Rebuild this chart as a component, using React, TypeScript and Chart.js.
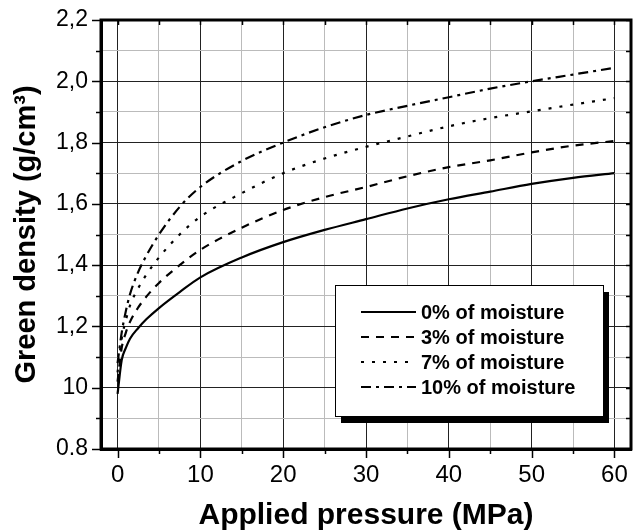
import React, { useEffect, useRef } from "react";
import { Chart, registerables } from "chart.js";

Chart.register(...registerables);

const pressure = [0, 0.5, 1, 1.5, 2.5, 3.5, 5, 7.5, 10, 15, 20, 25, 30, 35, 40, 45, 50, 55, 60];
const moisture0 = [0.98, 1.09, 1.13, 1.16, 1.195, 1.224, 1.26, 1.312, 1.36, 1.425, 1.475, 1.515, 1.55, 1.585, 1.615, 1.64, 1.665, 1.685, 1.70];
const moisture3 = [1.02, 1.13, 1.18, 1.215, 1.262, 1.298, 1.342, 1.40, 1.45, 1.522, 1.58, 1.622, 1.655, 1.69, 1.72, 1.742, 1.768, 1.79, 1.805];
const moisture7 = [1.05, 1.16, 1.22, 1.268, 1.325, 1.37, 1.425, 1.50, 1.558, 1.635, 1.70, 1.748, 1.786, 1.82, 1.853, 1.88, 1.902, 1.924, 1.945];
const moisture10 = [1.08, 1.18, 1.25, 1.305, 1.378, 1.432, 1.50, 1.59, 1.655, 1.74, 1.80, 1.85, 1.89, 1.92, 1.948, 1.976, 2.0, 2.022, 2.044];

const seriesLabels = ["0% of moisture", "3% of moisture", "7% of moisture", "10% of moisture"];
const seriesDashes: number[][] = [[], [8, 7], [3, 8], [10, 5, 3, 5]];

const yTickValues = [0.8, 1.0, 1.2, 1.4, 1.6, 1.8, 2.0, 2.2];
const yTickLabels = ["0.8", "10", "1,2", "1,4", "1,6", "1,8", "2,0", "2,2"];
const xTickValues = [0, 10, 20, 30, 40, 50, 60];
const xTickLabels = ["0", "10", "20", "30", "40", "50", "60"];

const FONT = "Arial, 'Liberation Sans', Helvetica, sans-serif";

const isMajorY = (v: number) => yTickValues.some((t) => Math.abs(t - v) < 1e-6);
const isMajorX = (v: number) => xTickValues.some((t) => Math.abs(t - v) < 1e-6);

const framePlugin = {
  id: "frameAndLegend",
  afterDraw(chart: any) {
    const { ctx, chartArea } = chart;
    const xs = chart.scales.x;
    const ys = chart.scales.y;
    ctx.save();
    ctx.strokeStyle = "#000";
    ctx.lineWidth = 1.5;
    for (let v = 0; v <= 60.0001; v += 5) {
      const px = Math.round(xs.getPixelForValue(v)) + 0.5;
      const len = isMajorX(v) ? 9 : 5;
      ctx.beginPath();
      ctx.moveTo(px, chartArea.bottom);
      ctx.lineTo(px, chartArea.bottom + len);
      ctx.stroke();
      ctx.beginPath();
      ctx.moveTo(px, chartArea.top);
      ctx.lineTo(px, chartArea.top + 5);
      ctx.stroke();
    }
    for (let i = 0; i <= 14; i++) {
      const v = 0.8 + i * 0.1;
      const py = Math.round(ys.getPixelForValue(v)) + 0.5;
      const len = isMajorY(v) ? 9 : 5;
      ctx.beginPath();
      ctx.moveTo(chartArea.left, py);
      ctx.lineTo(chartArea.left - len, py);
      ctx.stroke();
      ctx.beginPath();
      ctx.moveTo(chartArea.right, py);
      ctx.lineTo(chartArea.right - 5, py);
      ctx.stroke();
    }
    ctx.lineWidth = 3;
    ctx.strokeRect(chartArea.left, chartArea.top, chartArea.right - chartArea.left, chartArea.bottom - chartArea.top);

    const bx = 335, by = 285, bw = 268, bh = 131;
    ctx.fillStyle = "#000";
    ctx.fillRect(bx + 6, by + 7, bw, bh);
    ctx.fillStyle = "#fff";
    ctx.fillRect(bx, by, bw, bh);
    ctx.lineWidth = 1;
    ctx.strokeStyle = "#000";
    ctx.strokeRect(bx + 0.5, by + 0.5, bw, bh);

    ctx.font = `bold 20px ${FONT}`;
    ctx.textBaseline = "middle";
    ctx.textAlign = "left";
    ctx.fillStyle = "#000";
    seriesLabels.forEach((lab, i) => {
      const y = 312 + i * 25;
      ctx.beginPath();
      ctx.setLineDash(seriesDashes[i]);
      ctx.lineWidth = 2;
      ctx.moveTo(361, y);
      ctx.lineTo(416, y);
      ctx.stroke();
      ctx.setLineDash([]);
      ctx.fillText(lab, 421, y + 1);
    });
    ctx.restore();
  },
};

const zeroPad = (s: any) => {
  s.paddingTop = 0;
  s.paddingBottom = 0;
  s.paddingLeft = 0;
  s.paddingRight = 0;
};

export default function App() {
  const ref = useRef<HTMLCanvasElement | null>(null);
  useEffect(() => {
    document.body.style.margin = "0";
    const series = [moisture0, moisture3, moisture7, moisture10];
    const chart = new Chart(ref.current as HTMLCanvasElement, {
      type: "line",
      data: {
        datasets: series.map((s, i) => ({
          label: seriesLabels[i],
          data: pressure.map((x, j) => ({ x, y: s[j] })),
          borderColor: "#000",
          borderWidth: 2.2,
          borderDash: seriesDashes[i],
          pointRadius: 0,
          fill: false,
          cubicInterpolationMode: "monotone" as const,
        })),
      },
      options: {
        responsive: false,
        animation: false,
        layout: { padding: { top: 20, right: 4, left: 0, bottom: 0 } },
        plugins: { legend: { display: false }, tooltip: { enabled: false } },
        scales: {
          x: {
            type: "linear",
            min: -2,
            max: 62,
            afterFit: (s: any) => {
              s.height = 82;
              zeroPad(s);
            },
            ticks: {
              stepSize: 5,
              includeBounds: false,
              autoSkip: false,
              maxRotation: 0,
              padding: 12,
              color: "#000",
              font: { family: FONT, size: 24 },
              callback: (v: any) => {
                const i = xTickValues.findIndex((t) => Math.abs(t - Number(v)) < 1e-6);
                return i >= 0 ? xTickLabels[i] : "";
              },
            },
            grid: {
              drawTicks: false,
              color: (c: any) => (isMajorX(c.tick.value) ? "#222" : "#bbb"),
              lineWidth: 1,
            },
            border: { display: true, color: "#000", width: 3 },
            title: {
              display: true,
              text: "Applied pressure (MPa)",
              color: "#000",
              font: { family: FONT, size: 30, weight: "bold", lineHeight: 1 },
              padding: { top: 0, bottom: 0 },
            },
          },
          y: {
            type: "linear",
            min: 0.8,
            max: 2.2,
            afterFit: (s: any) => {
              s.width = 101;
              zeroPad(s);
            },
            ticks: {
              stepSize: 0.1,
              autoSkip: false,
              padding: 13,
              color: "#000",
              font: { family: FONT, size: 23 },
              callback: (v: any) => {
                const i = yTickValues.findIndex((t) => Math.abs(t - Number(v)) < 1e-6);
                return i >= 0 ? yTickLabels[i] : "";
              },
            },
            grid: {
              drawTicks: false,
              color: (c: any) => (isMajorY(c.tick.value) ? "#222" : "#bbb"),
              lineWidth: 1,
            },
            border: { display: true, color: "#000", width: 3 },
            title: {
              display: true,
              text: "Green density (g/cm³)",
              color: "#000",
              font: { family: FONT, size: 29, weight: "bold", lineHeight: 1 },
              padding: { top: 12, bottom: 0 },
            },
          },
        },
      },
      plugins: [framePlugin],
    });
    return () => chart.destroy();
  }, []);
  return (
    <div style={{ width: 635, height: 531 }}>
      <canvas ref={ref} width={635} height={531} />
    </div>
  );
}
